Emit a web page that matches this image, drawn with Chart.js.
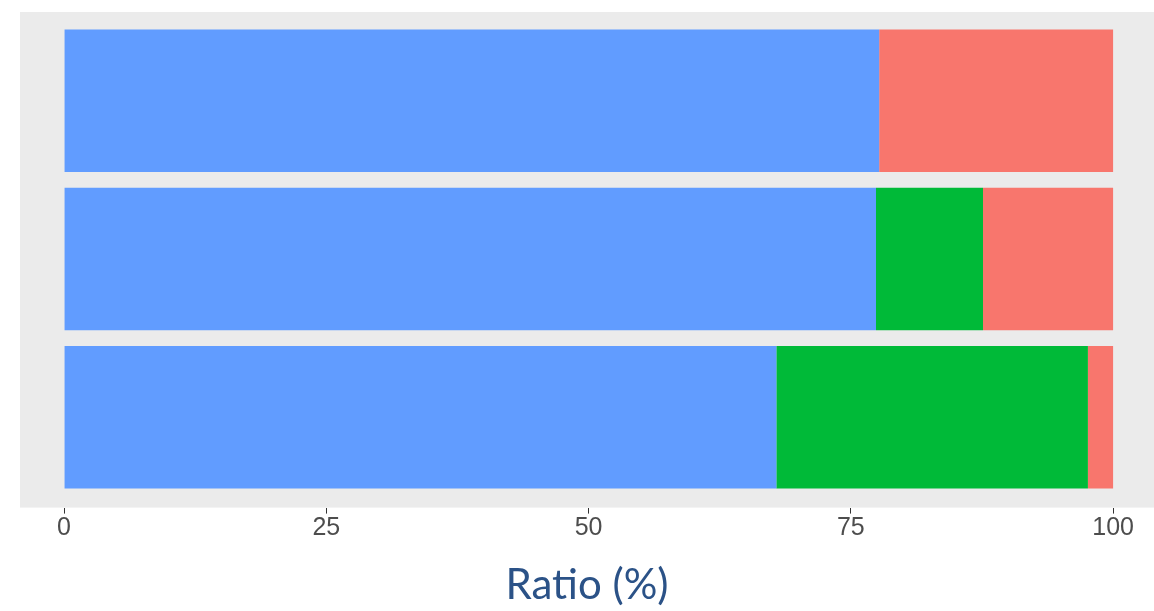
<!DOCTYPE html>
<html>
<head>
<meta charset="utf-8">
<script src="https://cdn.jsdelivr.net/npm/chart.js@4.4.0/dist/chart.umd.min.js"></script>
<style>
  html, body { margin: 0; padding: 0; background: #fff; }
  #wrap { width: 1154px; height: 611px; position: relative; }
</style>
</head>
<body>
<div id="wrap"><canvas id="ratio"></canvas></div>
<script>
// rows top to bottom, share of each group in %
const rows = [0, 1, 2];
const blueVals = [77.7, 77.4, 67.9];
const greenVals = [0, 10.2, 29.7];
const redVals = [22.3, 12.4, 2.4];
const xTicks = [0, 25, 50, 75, 100];

function toPoints(vals) {
    return vals.map((v, i) => ({ x: v, y: rows[i] }));
}

// grey ggplot-style panel behind the bars
const panelBg = {
    id: 'panelBg',
    beforeDatasetsDraw(chart) {
        const a = chart.chartArea;
        const ctx = chart.ctx;
        ctx.save();
        ctx.fillStyle = '#EBEBEB';
        ctx.fillRect(a.left, a.top, a.right - a.left, a.bottom - a.top);
        ctx.restore();
    }
};

let ratioChart = null;
function ratioGraph() {
    const ctx = document.getElementById('ratio');
    if (ratioChart) ratioChart.destroy();

    ratioChart = new Chart(ctx, {
        type: 'bar',
        data: {
            datasets: [
                { data: toPoints(blueVals), backgroundColor: '#619CFF' },
                { data: toPoints(greenVals), backgroundColor: '#00BA38' },
                { data: toPoints(redVals), backgroundColor: '#F8766D' }
            ]
        },
        options: {
            indexAxis: 'y',
            responsive: true,
            maintainAspectRatio: false,
            animation: false,
            layout: { padding: { left: 20, right: 0, top: 12, bottom: 0 } },
            datasets: {
                bar: { barPercentage: 0.9, categoryPercentage: 1, borderWidth: 0 }
            },
            scales: {
                x: {
                    type: 'linear',
                    stacked: true,
                    min: -4.2,
                    max: 103.9,
                    afterBuildTicks: (scale) => {
                        scale.ticks = xTicks.map(v => ({ value: v }));
                    },
                    border: { display: false },
                    grid: {
                        drawOnChartArea: false,
                        drawTicks: true,
                        tickLength: 6,
                        tickColor: '#333333',
                        lineWidth: 1
                    },
                    ticks: {
                        padding: 0,
                        color: '#4D4D4D',
                        font: { family: 'Liberation Sans', size: 25 }
                    },
                    title: {
                        display: true,
                        text: 'Ratio (%)',
                        color: '#2B5287',
                        font: { family: 'Lato', size: 42 },
                        padding: { top: 17, bottom: 0 }
                    }
                },
                y: {
                    type: 'linear',
                    stacked: true,
                    reverse: true,
                    offset: false,
                    min: -0.56,
                    max: 2.57,
                    afterBuildTicks: (scale) => {
                        scale.ticks = rows.map(v => ({ value: v }));
                    },
                    display: false
                }
            },
            plugins: {
                legend: { display: false },
                tooltip: { enabled: false }
            }
        },
        plugins: [panelBg]
    });
}

ratioGraph();
</script>
</body>
</html>
